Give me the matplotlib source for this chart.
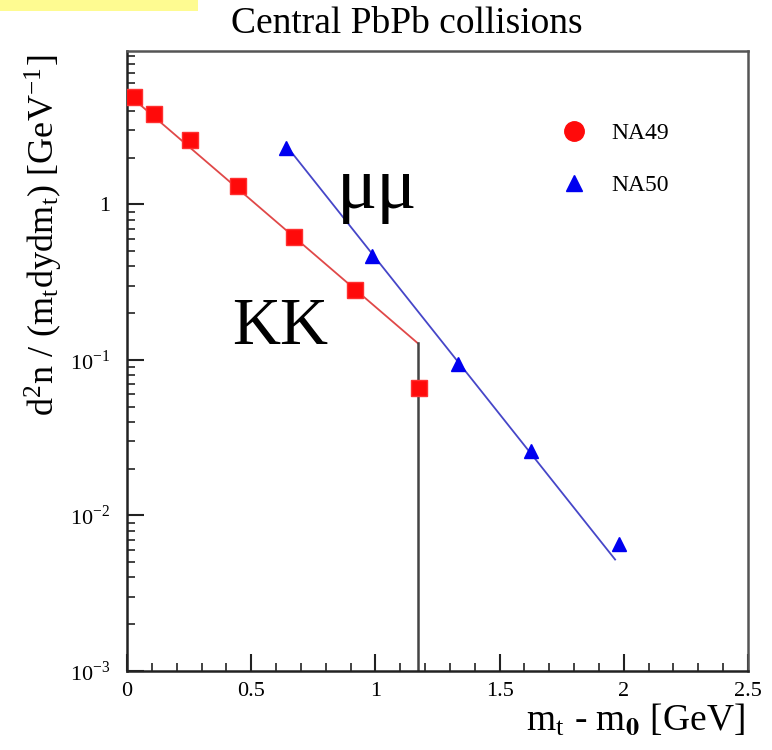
import matplotlib
matplotlib.use("Agg")
import matplotlib.pyplot as plt
from matplotlib.lines import Line2D
from matplotlib.patches import Rectangle
from matplotlib.ticker import LogLocator, NullFormatter, MultipleLocator

plt.rcParams['font.family'] = ['Liberation Serif', 'DejaVu Serif']
plt.rcParams['mathtext.fontset'] = 'stix'

# NA49 (K+K-) data
na49_x = [0.028, 0.109, 0.254, 0.447, 0.672, 0.918, 1.176]
na49_y = [4.88, 3.79, 2.58, 1.32, 0.614, 0.28, 0.0656]
# NA50 (mu+mu-) data
na50_x = [0.640, 0.986, 1.333, 1.626, 1.981]
na50_y = [2.29, 0.463, 0.0936, 0.0258, 0.0066]
# exponential fits (endpoints)
fit49_x = [0.0, 1.171]
fit49_y = [5.17, 0.128]
fit50_x = [0.64, 1.965]
fit50_y = [2.40, 0.00521]
# vertical marker line
vline_x = 1.171
vline_top = 0.128

fig = plt.figure(figsize=(7.72, 7.5), dpi=100)
ax = fig.add_axes([127/772, 79/750, 621/772, 620/750])

ax.set_yscale('log')
ax.set_xlim(0, 2.5)
ax.set_ylim(1e-3, 9.7)

ax.plot(fit49_x, fit49_y, color='#e04848', lw=1.3, zorder=2)
ax.plot(fit50_x, fit50_y, color='#4646c8', lw=1.3, zorder=2)
ax.plot([vline_x, vline_x], [1e-3, vline_top], color='#444444', lw=1.8, zorder=2)
ax.plot(na49_x, na49_y, 's', color='#ff0a0a', mec='#ff3030', ms=11, ls='none', zorder=3)
ax.plot(na50_x, na50_y, '^', color='#0000f0', ms=9.5, ls='none', zorder=3)

ax.text((377-127)/621*2.5, 10**((204-190)/155.5), 'μμ', fontsize=54,
        ha='center', va='center')
ax.text((280-127)/621*2.5, 10**((204-327)/155.5), 'KK', fontsize=48,
        ha='center', va='center')

# axes style
for s in ax.spines.values():
    s.set_linewidth(1.8)
    s.set_color('#222222')
ax.spines['top'].set_color('#555555')
ax.spines['right'].set_color('#555555')

ax.xaxis.set_minor_locator(MultipleLocator(0.1))
ax.set_xticks([0, 0.5, 1, 1.5, 2, 2.5])
ax.set_xticklabels(['0', '0.5', '1', '1.5', '2', '2.5'])
ax.set_yticks([1e-3, 1e-2, 1e-1, 1])
ax.set_yticklabels([r'10$^{\mathregular{-3}}$', r'10$^{\mathregular{-2}}$',
                    r'10$^{\mathregular{-1}}$', '1'])
ax.yaxis.set_minor_locator(LogLocator(base=10, subs=range(2, 10)))
ax.yaxis.set_minor_formatter(NullFormatter())
ax.tick_params(axis='both', which='major', direction='in', length=12, width=1.5,
               labelsize=16, top=False, right=False, color='#222222')
ax.tick_params(axis='both', which='minor', direction='in', length=6, width=1.2,
               top=False, right=False, color='#222222')
ax.tick_params(axis='x', pad=8)
ax.tick_params(axis='y', pad=12)

ax.set_ylabel(r'd$^{\mathregular{2}}$n / (m$_{\mathregular{t}}$dydm$_{\mathregular{t}}$) [GeV$^{\mathregular{-1}}$]',
              fontsize=26)
ax.yaxis.set_label_coords((64-127)/621, (671-235)/620)
fig.text(745/772, 1 - 720/750, r'm$_{\mathregular{t}}$ - m$_{\mathbf{0}}$ [GeV]', fontsize=27,
         ha='right', va='center')

fig.text(407/772, 1 - 24/750, 'Central PbPb collisions', fontsize=27,
         ha='center', va='center')

fig.patches.append(Rectangle((0, 1 - 11/750), 198/772, 11/750, transform=fig.transFigure,
                             facecolor='#fefb91', edgecolor='none'))

handles = [Line2D([], [], marker='o', color='#ff0a0a', ls='none', ms=14),
           Line2D([], [], marker='^', color='#0000f0', ls='none', ms=12)]
leg = ax.legend(handles, ['NA49', 'NA50'], loc='upper left',
                bbox_to_anchor=(529/772, 1 - 101/750), bbox_transform=fig.transFigure,
                frameon=False, fontsize=17, handletextpad=0.6, labelspacing=1.3)

fig.savefig('out.png', dpi=100)
